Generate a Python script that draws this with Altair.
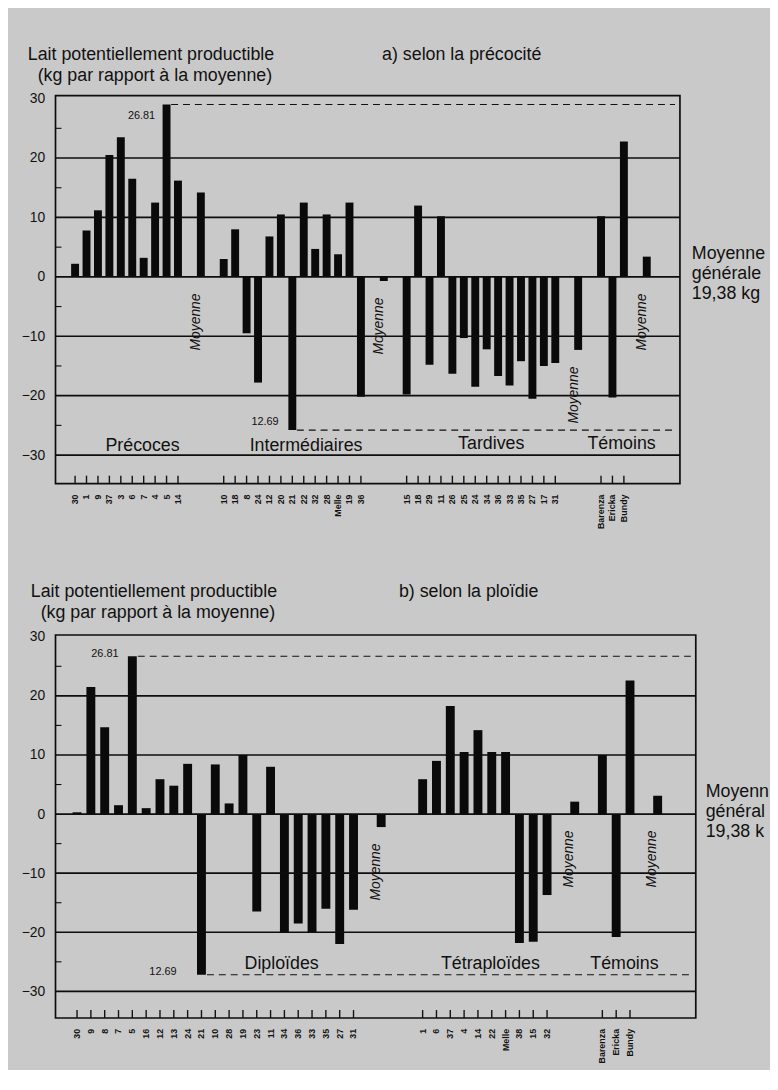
import altair as alt
import pandas as pd

FONT = "Liberation Sans"

# ---------------- Panel a : selon la précocité ----------------
a_prec_lbl = ["30", "1", "9", "37", "3", "6", "7", "4", "5", "14"]
a_prec_val = [2.2, 7.8, 11.2, 20.5, 23.5, 16.5, 3.2, 12.5, 29.0, 16.2]
a_prec_moy = 14.2

a_int_lbl = ["10", "18", "8", "24", "12", "20", "21", "22", "32", "28", "Melle", "19", "36"]
a_int_val = [3.0, 8.0, -9.5, -17.8, 6.8, 10.5, -25.8, 12.5, 4.7, 10.5, 3.8, 12.5, -20.2]
a_int_moy = -0.7

a_tard_lbl = ["15", "18", "29", "11", "26", "25", "24", "34", "36", "33", "35", "27", "17", "31"]
a_tard_val = [-19.8, 12.0, -14.8, 10.2, -16.3, -10.3, -18.5, -12.2, -16.7, -18.3, -14.2, -20.5, -15.0, -14.5]
a_tard_moy = -12.3

tem_lbl = ["Barenza", "Ericka", "Bundy"]
a_tem_val = [10.2, -20.3, 22.8]
a_tem_moy = 3.4

# ---------------- Panel b : selon la ploïdie ----------------
b_dip_lbl = ["30", "9", "8", "7", "5", "16", "12", "13", "24", "21", "10", "28",
             "19", "23", "11", "34", "36", "33", "35", "27", "31"]
b_dip_val = [0.3, 21.5, 14.7, 1.5, 26.7, 1.0, 5.9, 4.8, 8.5, -27.2, 8.4, 1.8,
             10.0, -16.5, 8.0, -20.0, -18.5, -20.0, -16.0, -22.0, -16.2]
b_dip_moy = -2.2

b_tet_lbl = ["1", "6", "37", "4", "14", "22", "Melle", "38", "15", "32"]
b_tet_val = [5.9, 9.0, 18.3, 10.5, 14.2, 10.5, 10.5, -21.8, -21.6, -13.7]
b_tet_moy = 2.1

b_tem_val = [10.0, -20.8, 22.6]
b_tem_moy = 3.1

grid_vals = [-30, -20, -10, 0, 10, 20]
minor_vals = [25, 15, 5, -5, -15, -25]
axis_vals = [-30, -20, -10, 0, 10, 20, 30]

YAXIS = alt.Axis(values=axis_vals, grid=False, ticks=False, domain=False,
                 labelFont=FONT, labelFontSize=14, labelColor="#111",
                 labelPadding=11, title=None)


def panel(groups, starts, W, H, xdom, ydom, bar_w, header, title_txt, title_dx,
          group_ann, peak_txt, peak_off, low_txt, low_off, gen_dx, gen_y, gen_limit):
    bars, moys = [], []
    for (labels, values, moy), start in zip(groups, starts):
        for i, (l, v) in enumerate(zip(labels, values)):
            bars.append(dict(slot=start + i, v=v, lbl=l))
        ms = start + len(values) + 1
        bars.append(dict(slot=ms, v=moy, lbl=""))
        moys.append(dict(slot=ms - 0.4, y=min(moy, 0) - 7.6, t="Moyenne"))
    df = pd.DataFrame(bars)
    dft = df[df.lbl != ""]
    dfm = pd.DataFrame(moys)

    xs = alt.Scale(domain=xdom, nice=False, zero=False)
    ys = alt.Scale(domain=ydom, nice=False, zero=False)

    def X(f):
        return alt.X(f, type="quantitative", scale=xs, axis=None)

    def Y(f):
        return alt.Y(f, type="quantitative", scale=ys, axis=YAXIS)

    grid = alt.Chart(pd.DataFrame({"y": grid_vals})).mark_rule(
        color="#0d0d0d", strokeWidth=1.7).encode(
        y=Y("y"), x=alt.value(0), x2=alt.value(W))
    minor = alt.Chart(pd.DataFrame({"y": minor_vals})).mark_rule(
        color="#0d0d0d", strokeWidth=1.1).encode(
        y=Y("y"), x=alt.value(0), x2=alt.value(6))

    pk = df.loc[df.v.idxmax()]
    lo = df.loc[df.v.idxmin()]
    dash_df = pd.DataFrame({"x": [pk.slot + 0.4, lo.slot + 0.4],
                            "x2": [xdom[1], xdom[1]],
                            "y": [pk.v, lo.v]})
    dash = alt.Chart(dash_df).mark_rule(
        color="#111", strokeWidth=1.1, strokeDash=[7, 5]).encode(
        x=X("x"), x2="x2:Q", y=Y("y"))

    barc = alt.Chart(df).mark_bar(size=bar_w, color="#0a0a0a").encode(
        x=X("slot"), y=Y("v"), y2=alt.datum(0))

    tick = alt.Chart(dft).mark_rule(color="#111", strokeWidth=1.4).encode(
        x=X("slot"), y=alt.value(H), y2=alt.value(H - 8))
    tlab = alt.Chart(dft).mark_text(
        angle=270, align="right", baseline="middle", font=FONT, fontSize=9,
        fontWeight="bold", color="#111").encode(
        x=X("slot"), y=alt.value(H + 11), text="lbl:N")

    moyl = alt.Chart(dfm).mark_text(
        angle=270, align="center", baseline="middle", font=FONT, fontSize=14,
        fontStyle="italic", color="#111").encode(
        x=X("slot"), y=Y("y"), text="t:N")

    gdf = pd.DataFrame(group_ann, columns=["t", "x", "y"])
    glab = alt.Chart(gdf).mark_text(
        align="center", baseline="middle", font=FONT, fontSize=18, color="#111").encode(
        x=X("x"), y=Y("y"), text="t:N")

    adf = pd.DataFrame({"t": [peak_txt, low_txt],
                        "x": [pk.slot + peak_off[0], lo.slot + low_off[0]],
                        "y": [peak_off[1], low_off[1]]})
    alab = alt.Chart(adf).mark_text(
        align="right", baseline="middle", font=FONT, fontSize=11, color="#111").encode(
        x=X("x"), y=Y("y"), text="t:N")

    hdr = []
    for t, dx, dy in header:
        hdr.append(alt.Chart(pd.DataFrame({"t": [t]})).mark_text(
            align="left", baseline="alphabetic", font=FONT, fontSize=18, color="#111").encode(
            x=alt.value(dx), y=alt.value(dy), text="t:N"))
    ttl = alt.Chart(pd.DataFrame({"t": [title_txt]})).mark_text(
        align="left", baseline="alphabetic", font=FONT, fontSize=18, color="#111").encode(
        x=alt.value(title_dx), y=alt.value(header[0][2]), text="t:N")

    gen = alt.Chart(pd.DataFrame({"t": ["Moyenne\ngénérale\n19,38 kg"], "y": [gen_y]})).mark_text(
        align="left", baseline="middle", font=FONT, fontSize=18, lineHeight=20,
        lineBreak="\n", color="#111", limit=gen_limit, ellipsis="\u200b").encode(
        x=alt.value(W + gen_dx), y=Y("y"), text="t:N")

    return alt.layer(barc, grid, minor, dash, tick, tlab, moyl, glab, alab, *hdr, ttl, gen).properties(
        width=W, height=H)


pa = panel(
    groups=[(a_prec_lbl, a_prec_val, a_prec_moy), (a_int_lbl, a_int_val, a_int_moy),
            (a_tard_lbl, a_tard_val, a_tard_moy), (tem_lbl, a_tem_val, a_tem_moy)],
    starts=[0, 13, 29, 46], W=631, H=392, xdom=[-1.28, 52.47], ydom=[-34.8, 30.5], bar_w=8,
    header=[("Lait potentiellement productible", -28, -36),
            ("(kg par rapport à la moyenne)", -18, -15)],
    title_txt="a) selon la précocité", title_dx=330,
    group_ann=[("Précoces", 5.9, -28.4), ("Intermédiaires", 20.2, -28.4),
               ("Tardives", 36.4, -28.2), ("Témoins", 47.8, -28.2)],
    peak_txt="26.81", peak_off=(-1.0, 27.0), low_txt="12.69", low_off=(-1.2, -24.5),
    gen_dx=12, gen_y=3.8, gen_limit=200)

pb = panel(
    groups=[(b_dip_lbl, b_dip_val, b_dip_moy), (b_tet_lbl, b_tet_val, b_tet_moy),
            (tem_lbl, b_tem_val, b_tem_moy)],
    starts=[0, 25, 38], W=647, H=387, xdom=[-1.2, 44.4], ydom=[-34.5, 30.3], bar_w=9,
    header=[("Lait potentiellement productible", -25, -38),
            ("(kg par rapport à la moyenne)", -15, -17)],
    title_txt="b) selon la ploïdie", title_dx=347,
    group_ann=[("Diploïdes", 14.8, -25.3), ("Tétraploïdes", 29.9, -25.3),
               ("Témoins", 39.6, -25.3)],
    peak_txt="26.81", peak_off=(-1.0, 27.1), low_txt="12.69", low_off=(-1.8, -26.8),
    gen_dx=10, gen_y=3.7, gen_limit=66)

chart = alt.vconcat(pa, pb, spacing=53).properties(
    padding={"left": 12, "top": 32, "right": 0, "bottom": 0}
).configure(background="#c9c9c9").configure_view(stroke="#0d0d0d", strokeWidth=1.7)

chart.save("out.html", embed_options={"renderer": "svg", "actions": False})
